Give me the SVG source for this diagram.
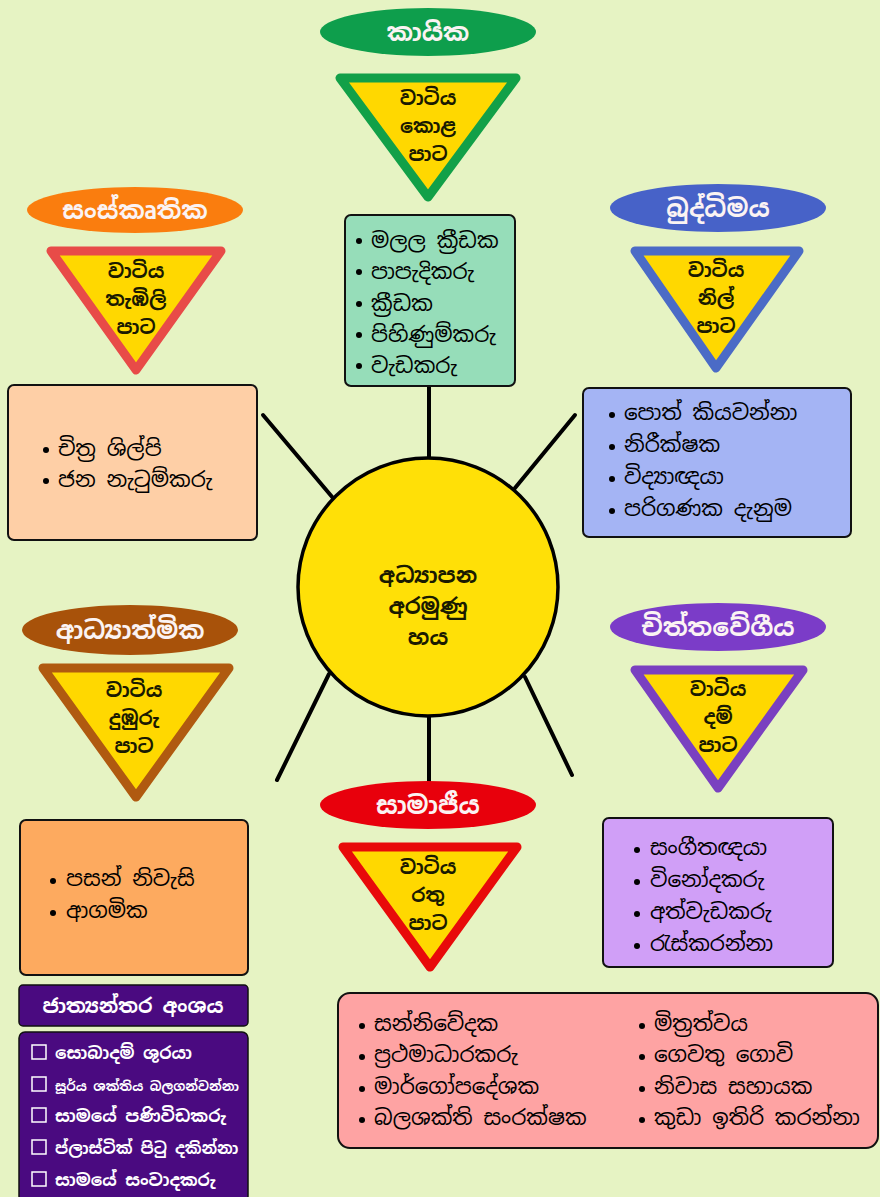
<svg xmlns="http://www.w3.org/2000/svg" width="880" height="1197" viewBox="0 0 880 1197">
<defs>
<style>
text{font-family:"Noto Sans Sinhala","Noto Serif Sinhala","Iskoola Pota","Noto Sans",sans-serif;}
.lbl{fill:#fbf3f3;font-size:25px;font-weight:bold;text-anchor:middle;}
.tri{fill:#FFD800;stroke-width:9;stroke-linejoin:round;}
.tt{fill:#1a1a00;font-size:19.5px;font-weight:bold;text-anchor:middle;}
.box{stroke:#111;stroke-width:2;}
.it{fill:#000;font-size:21.5px;}
.dot{fill:#000;}
.pl{fill:#4A0A80;stroke:#111;stroke-width:1.5;}
.pt{fill:#fff;font-size:17px;font-weight:bold;}
.cb{fill:none;stroke:#fff;stroke-width:1.5;}
.con{stroke:#000;stroke-width:4;fill:none;stroke-linecap:round;}
</style>
</defs>
<rect width="880" height="1197" fill="#E6F3C3"/>

<g id="connectors">
<line class="con" x1="429" y1="386" x2="429" y2="458"/>
<line class="con" x1="263" y1="415" x2="333" y2="498"/>
<line class="con" x1="575" y1="415" x2="515" y2="488"/>
<line class="con" x1="329" y1="674" x2="277" y2="780"/>
<line class="con" x1="525" y1="677" x2="572" y2="775"/>
<line class="con" x1="429" y1="716" x2="429" y2="784"/>
</g>

<g id="center">
<ellipse cx="428" cy="587" rx="130" ry="129" fill="#FFE007" stroke="#000" stroke-width="3.5"/>
<text class="tt" x="428" y="583" style="font-size:22px">අධ්‍යාපන</text>
<text class="tt" x="428" y="614" style="font-size:22px">අරමුණු</text>
<text class="tt" x="428" y="645" style="font-size:22px">හය</text>
</g>

<g id="kayika">
<ellipse cx="428" cy="32" rx="108" ry="24" fill="#0E9E4C"/>
<text class="lbl" x="428" y="41">කායික</text>
<polygon class="tri" points="340,78 516,78 428,197" stroke="#12A048"/>
<text class="tt" x="428" y="105">වාටිය</text>
<text class="tt" x="428" y="133">කොළ</text>
<text class="tt" x="428" y="161">පාට</text>
<rect class="box" x="345" y="215" width="170" height="171" rx="6" fill="#96DDB9"/>
<circle class="dot" cx="359" cy="241" r="3"/><text class="it" x="371" y="248">මලල ක්‍රීඩක</text>
<circle class="dot" cx="359" cy="272" r="3"/><text class="it" x="371" y="279">පාපැදිකරු</text>
<circle class="dot" cx="359" cy="304" r="3"/><text class="it" x="371" y="311">ක්‍රීඩක</text>
<circle class="dot" cx="359" cy="335" r="3"/><text class="it" x="371" y="342">පිහිණුම්කරු</text>
<circle class="dot" cx="359" cy="366" r="3"/><text class="it" x="371" y="373">වැඩකරු</text>
</g>

<g id="sanskruthika">
<ellipse cx="135" cy="210" rx="108" ry="23" fill="#FA7D0E"/>
<text class="lbl" x="135" y="219">සංස්කෘතික</text>
<polygon class="tri" points="51,251 221,251 136,370" stroke="#E84B48"/>
<text class="tt" x="136" y="278">වාටිය</text>
<text class="tt" x="136" y="306">තැඹිලි</text>
<text class="tt" x="136" y="334">පාට</text>
<rect class="box" x="8" y="385" width="249" height="155" rx="6" fill="#FECFA6"/>
<circle class="dot" cx="46" cy="450" r="3"/><text class="it" x="58" y="456">චිත්‍ර ශිල්පි</text>
<circle class="dot" cx="46" cy="481" r="3"/><text class="it" x="58" y="487">ජන නැටුම්කරු</text>
</g>

<g id="buddhimaya">
<ellipse cx="718" cy="208" rx="108" ry="24" fill="#4762C8"/>
<text class="lbl" x="718" y="217">බුද්ධිමය</text>
<polygon class="tri" points="635,251 799,251 716,368" stroke="#4B6BC6"/>
<text class="tt" x="716" y="277">වාටිය</text>
<text class="tt" x="716" y="305">නිල්</text>
<text class="tt" x="716" y="333">පාට</text>
<rect class="box" x="583" y="388" width="268" height="149" rx="6" fill="#A4B4F4"/>
<circle class="dot" cx="612" cy="415" r="3"/><text class="it" x="624" y="420">පොත් කියවන්නා</text>
<circle class="dot" cx="612" cy="447" r="3"/><text class="it" x="624" y="452">නිරීක්ෂක</text>
<circle class="dot" cx="612" cy="479" r="3"/><text class="it" x="624" y="484">විද්‍යාඥයා</text>
<circle class="dot" cx="612" cy="511" r="3"/><text class="it" x="624" y="516">පරිගණක දැනුම</text>
</g>

<g id="adhyathmika">
<ellipse cx="130" cy="630" rx="108" ry="25" fill="#A8520A"/>
<text class="lbl" x="130" y="639">ආධ්‍යාත්මික</text>
<polygon class="tri" points="43,668 229,668 136,797" stroke="#B05A10"/>
<text class="tt" x="134" y="697">වාටිය</text>
<text class="tt" x="134" y="725">දුඹුරු</text>
<text class="tt" x="134" y="753">පාට</text>
<rect class="box" x="20" y="820" width="228" height="155" rx="6" fill="#FDAA5F"/>
<circle class="dot" cx="53" cy="881" r="3"/><text class="it" x="66" y="886">පසන් නිවැසි</text>
<circle class="dot" cx="53" cy="913" r="3"/><text class="it" x="66" y="918">ආගමික</text>
</g>

<g id="chiththavegiya">
<ellipse cx="718" cy="627" rx="108" ry="24" fill="#7B3CC8"/>
<text class="lbl" x="718" y="636">චිත්තවේගීය</text>
<polygon class="tri" points="635,670 803,670 718,788" stroke="#7A40C0"/>
<text class="tt" x="718" y="696">වාටිය</text>
<text class="tt" x="718" y="724">දම්</text>
<text class="tt" x="718" y="752">පාට</text>
<rect class="box" x="603" y="818" width="230" height="149" rx="6" fill="#D09FF7"/>
<circle class="dot" cx="637" cy="850" r="3"/><text class="it" x="650" y="855">සංගීතඥයා</text>
<circle class="dot" cx="637" cy="882" r="3"/><text class="it" x="650" y="887">විනෝදකරු</text>
<circle class="dot" cx="637" cy="914" r="3"/><text class="it" x="650" y="919">අත්වැඩකරු</text>
<circle class="dot" cx="637" cy="946" r="3"/><text class="it" x="650" y="951">රැස්කරන්නා</text>
</g>

<g id="samajiya">
<ellipse cx="428" cy="805" rx="108" ry="24" fill="#E8000C"/>
<text class="lbl" x="428" y="814">සාමාජීය</text>
<polygon class="tri" points="343,847 517,847 430,967" stroke="#E80A0A"/>
<text class="tt" x="428" y="874">වාටිය</text>
<text class="tt" x="428" y="902">රතු</text>
<text class="tt" x="428" y="930">පාට</text>
<rect class="box" x="338" y="993" width="540" height="155" rx="12" fill="#FEA3A3"/>
<circle class="dot" cx="362" cy="1026" r="3"/><text class="it" x="374" y="1031">සන්නිවේදක</text>
<circle class="dot" cx="362" cy="1057" r="3"/><text class="it" x="374" y="1062">ප්‍රථමාධාරකරු</text>
<circle class="dot" cx="362" cy="1089" r="3"/><text class="it" x="374" y="1094">මාර්ගෝපදේශක</text>
<circle class="dot" cx="362" cy="1120" r="3"/><text class="it" x="374" y="1125">බලශක්ති සංරක්ෂක</text>
<circle class="dot" cx="642" cy="1026" r="3"/><text class="it" x="654" y="1031">මිත්‍රත්වය</text>
<circle class="dot" cx="642" cy="1057" r="3"/><text class="it" x="654" y="1062">ගෙවතු ගොවි</text>
<circle class="dot" cx="642" cy="1089" r="3"/><text class="it" x="654" y="1094">නිවාස සහායක</text>
<circle class="dot" cx="642" cy="1120" r="3"/><text class="it" x="654" y="1125">කුඩා ඉතිරි කරන්නා</text>
</g>

<g id="jathyanthara">
<rect class="pl" x="19" y="985" width="229" height="41" rx="4"/>
<text class="pt" x="133" y="1013" style="font-size:20px;text-anchor:middle">ජාත්‍යන්තර අංශය</text>
<rect class="pl" x="19" y="1032" width="229" height="170" rx="6"/>
<rect class="cb" x="32" y="1045" width="14" height="14"/><text class="pt" x="55" y="1059">සොබාදම් ශුරයා</text>
<rect class="cb" x="32" y="1077" width="14" height="14"/><text class="pt" x="55" y="1091" style="font-size:13px">සූර්ය ශක්තිය බලගන්වන්නා</text>
<rect class="cb" x="32" y="1108" width="14" height="14"/><text class="pt" x="55" y="1122">සාමයේ පණිවිඩකරු</text>
<rect class="cb" x="32" y="1140" width="14" height="14"/><text class="pt" x="55" y="1154" style="font-size:16px">ප්ලාස්ටික් පිටු දකින්නා</text>
<rect class="cb" x="32" y="1172" width="14" height="14"/><text class="pt" x="55" y="1186">සාමයේ සංවාදකරු</text>
</g>
</svg>
